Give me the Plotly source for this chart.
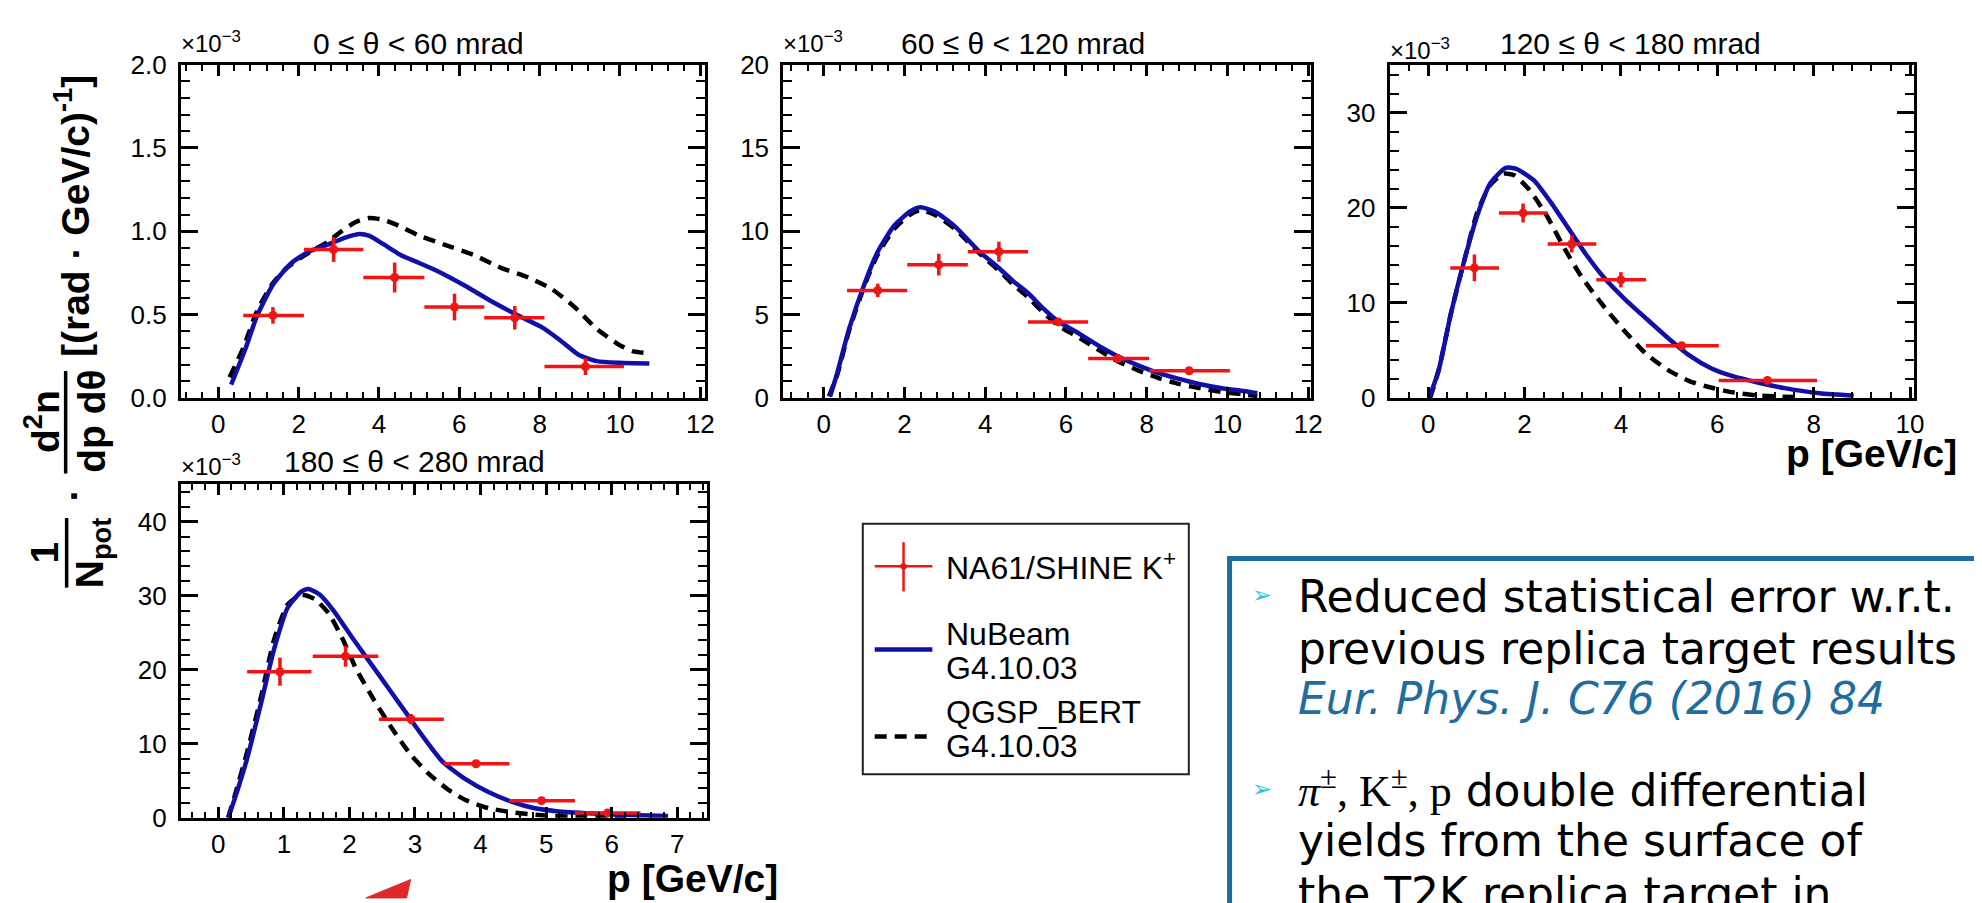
import plotly.graph_objects as go

W, H = 1982, 903

# ---------------- data (y in units of 1e-3) ----------------
# Panel 1 : 0 <= theta < 60 mrad
p1_data_x   = [1.36, 2.87, 4.39, 5.88, 7.38, 9.14]
p1_data_xlo = [0.62, 2.13, 3.61, 5.13, 6.62, 8.12]
p1_data_xhi = [2.13, 3.61, 5.13, 6.62, 8.12, 10.10]
p1_data_y   = [0.496, 0.891, 0.723, 0.546, 0.482, 0.189]
p1_data_err = [0.05, 0.075, 0.09, 0.08, 0.07, 0.05]
p1_nb_x = [0.32, 0.68, 0.96, 1.36, 1.82, 2.27, 2.72, 3.18, 3.52, 3.75, 4.09, 4.54, 5.0, 5.45,
           6.13, 6.81, 7.49, 8.06, 8.51, 8.97, 9.42, 9.99, 10.73]
p1_nb_y = [0.081, 0.299, 0.49, 0.68, 0.81, 0.88, 0.92, 0.964, 0.984, 0.974, 0.926, 0.858, 0.81,
           0.762, 0.675, 0.579, 0.492, 0.424, 0.347, 0.26, 0.222, 0.212, 0.208]
p1_qg_x = [0.28, 0.62, 0.96, 1.36, 1.7, 2.04, 2.38, 2.72, 3.06, 3.41, 3.75, 4.09, 4.43, 5.0,
           5.68, 6.36, 7.04, 7.72, 8.29, 8.85, 9.42, 9.99, 10.33, 10.67]
p1_qg_y = [0.125, 0.3, 0.52, 0.69, 0.78, 0.84, 0.89, 0.935, 1.0, 1.055, 1.08, 1.07, 1.04, 0.974,
           0.916, 0.858, 0.781, 0.723, 0.656, 0.55, 0.415, 0.318, 0.28, 0.27]

# Panel 2 : 60 <= theta < 120 mrad
p2_data_x   = [1.34, 2.85, 4.34, 5.81, 7.29, 9.05]
p2_data_xlo = [0.58, 2.07, 3.57, 5.06, 6.55, 8.06]
p2_data_xhi = [2.07, 3.57, 5.06, 6.55, 8.06, 10.06]
p2_data_y   = [6.46, 8.0, 8.78, 4.57, 2.37, 1.64]
p2_data_err = [0.4, 0.65, 0.6, 0.2, 0.15, 0.1]
p2_nb_x = [0.16, 0.33, 0.63, 1.04, 1.34, 1.74, 2.14, 2.39, 2.75, 3.25, 3.85, 4.34, 4.7, 5.06,
           5.45, 5.81, 6.27, 6.87, 7.29, 7.8, 8.3, 8.8, 9.3, 9.9, 10.4, 10.74]
p2_nb_y = [0.1, 1.45, 4.15, 7.04, 8.78, 10.32, 11.19, 11.44, 11.19, 10.3, 8.8, 7.8, 7.0, 6.3,
           5.35, 4.6, 3.95, 3.05, 2.5, 1.95, 1.5, 1.15, 0.85, 0.58, 0.42, 0.29]
p2_qg_x = [0.13, 0.33, 0.63, 1.04, 1.34, 1.74, 2.14, 2.39, 2.75, 3.25, 3.85, 4.34, 4.7, 5.06,
           5.45, 5.81, 6.27, 6.87, 7.29, 7.8, 8.3, 8.8, 9.3, 9.9, 10.4, 10.74]
p2_qg_y = [0.1, 1.35, 4.05, 6.94, 8.62, 10.13, 11.0, 11.28, 10.99, 10.15, 8.7, 7.65, 6.8, 6.05,
           5.1, 4.35, 3.7, 2.8, 2.2, 1.65, 1.2, 0.85, 0.6, 0.35, 0.22, 0.13]

# Panel 3 : 120 <= theta < 180 mrad
p3_data_x   = [0.96, 1.97, 2.98, 4.0, 5.26, 7.04]
p3_data_xlo = [0.46, 1.47, 2.48, 3.49, 4.52, 6.03]
p3_data_xhi = [1.47, 2.48, 3.49, 4.52, 6.03, 8.07]
p3_data_y   = [13.68, 19.46, 16.2, 12.43, 5.5, 1.86]
p3_data_err = [1.4, 1.0, 0.9, 0.8, 0.3, 0.2]
p3_nb_x = [0.02, 0.22, 0.48, 0.75, 1.02, 1.29, 1.61, 1.83, 2.19, 2.55, 2.91, 3.27, 3.63, 4.08,
           4.52, 4.97, 5.42, 5.87, 6.32, 6.86, 7.4, 8.12, 8.83]
p3_nb_y = [0.0, 2.97, 9.05, 14.46, 19.19, 22.57, 24.19, 24.09, 22.9, 20.54, 17.84, 15.14, 12.77,
           10.41, 8.38, 6.35, 4.49, 3.14, 2.3, 1.62, 1.05, 0.51, 0.27]
p3_qg_x = [0.04, 0.22, 0.48, 0.75, 1.02, 1.29, 1.56, 1.79, 2.1, 2.46, 2.82, 3.18, 3.63, 4.08,
           4.52, 4.97, 5.42, 5.87, 6.32, 6.86, 7.67]
p3_qg_y = [0.0, 2.97, 9.05, 14.46, 19.53, 22.4, 23.58, 23.41, 21.89, 19.19, 15.81, 12.77, 9.73,
           7.03, 4.66, 2.97, 1.79, 1.11, 0.61, 0.27, 0.1]

# Panel 4 : 180 <= theta < 280 mrad
p4_data_x   = [0.94, 1.94, 2.94, 3.93, 4.93, 5.94]
p4_data_xlo = [0.44, 1.44, 2.45, 3.44, 4.44, 5.44]
p4_data_xhi = [1.42, 2.44, 3.44, 4.44, 5.44, 6.44]
p4_data_y   = [19.74, 21.82, 13.32, 7.29, 2.3, 0.65]
p4_data_err = [1.9, 1.4, 0.7, 0.4, 0.2, 0.1]
p4_nb_x = [0.15, 0.26, 0.44, 0.65, 0.85, 1.06, 1.27, 1.375, 1.55, 1.76, 2.03, 2.31, 2.59, 2.87,
           3.15, 3.42, 3.77, 4.12, 4.47, 4.81, 5.16, 5.72, 6.27, 6.86]
p4_nb_y = [0.0, 2.82, 8.03, 15.4, 22.78, 28.42, 30.59, 30.93, 30.15, 27.98, 24.51, 21.04, 17.57,
           14.1, 10.63, 7.59, 5.21, 3.47, 2.17, 1.3, 0.87, 0.56, 0.35, 0.22]
p4_qg_x = [0.15, 0.26, 0.44, 0.65, 0.85, 1.06, 1.27, 1.48, 1.69, 1.9, 2.1, 2.38, 2.66, 2.94,
           3.22, 3.49, 3.77, 4.12, 4.47, 4.88, 5.51, 6.2]
p4_qg_y = [0.0, 3.25, 8.89, 16.27, 24.08, 28.85, 30.15, 29.5, 27.55, 24.08, 20.17, 15.84, 11.93,
           8.46, 5.86, 3.9, 2.39, 1.3, 0.74, 0.35, 0.09, 0.0]

panel_titles = ["0 \u2264 \u03b8 < 60 mrad", "60 \u2264 \u03b8 < 120 mrad",
                "120 \u2264 \u03b8 < 180 mrad", "180 \u2264 \u03b8 < 280 mrad"]
legend_labels = ["NA61/SHINE K<sup>+</sup>", "NuBeam", "G4.10.03", "QGSP_BERT", "G4.10.03"]

# ---------------- styling ----------------
RED = "#f01414"
BLUE = "#1010a8"
FONT = "Liberation Sans, Arial, Helvetica, sans-serif"
TXT = "DejaVu Sans, Verdana, sans-serif"
BOXBLUE = "#1f6d9e"


def px(x):
    return x / W


def py(y):
    return 1 - y / H


panels = [
    dict(frame=(174, 701, 43, 388), xr=[-0.93, 12.11], yr=[0, 2.0], xd=2, xm=0.4, yd=0.5, ym=0.1,
         yfmt=".1f", data=(p1_data_x, p1_data_xlo, p1_data_xhi, p1_data_y, p1_data_err),
         nb=(p1_nb_x, p1_nb_y), qg=(p1_qg_x, p1_qg_y), title_x=413, title_y=21, exp=(174, 20)),
    dict(frame=(780, 1311, 43, 388), xr=[-1.0, 12.07], yr=[0, 20], xd=2, xm=0.4, yd=5, ym=1,
         yfmt="d", data=(p2_data_x, p2_data_xlo, p2_data_xhi, p2_data_y, p2_data_err),
         nb=(p2_nb_x, p2_nb_y), qg=(p2_qg_x, p2_qg_y), title_x=1021, title_y=21, exp=(780, 20)),
    dict(frame=(1390, 1918, 43, 388), xr=[-0.80, 10.09], yr=[0, 35.05], xd=2, xm=0.4, yd=10, ym=2,
         yfmt="d", data=(p3_data_x, p3_data_xlo, p3_data_xhi, p3_data_y, p3_data_err),
         nb=(p3_nb_x, p3_nb_y), qg=(p3_qg_x, p3_qg_y), title_x=1632, title_y=21, exp=(1390, 27)),
    dict(frame=(174, 703, 477, 822), xr=[-0.57, 7.45], yr=[0, 45.1], xd=1, xm=0.2, yd=10, ym=2,
         yfmt="d", data=(p4_data_x, p4_data_xlo, p4_data_xhi, p4_data_y, p4_data_err),
         nb=(p4_nb_x, p4_nb_y), qg=(p4_qg_x, p4_qg_y), title_x=409, title_y=454, exp=(174, 457)),
]

fig = go.Figure()
layout = dict(
    width=W, height=H, margin=dict(l=0, r=0, t=0, b=0),
    paper_bgcolor="white", plot_bgcolor="white", showlegend=False,
    font=dict(family=FONT, color="black"),
)
annotations = []
shapes = []

for i, p in enumerate(panels):
    n = "" if i == 0 else str(i + 1)
    x0, x1, y0, y1 = p["frame"]
    common = dict(showline=True, linewidth=3, linecolor="black", mirror="allticks",
                  ticks="inside", tickwidth=2.5, tickcolor="black", showgrid=False,
                  zeroline=False, tickfont=dict(family=FONT, size=26, color="black"))
    layout["xaxis" + n] = dict(
        domain=[px(x0), px(x1)], anchor="y" + n, range=p["xr"], tick0=0, dtick=p["xd"],
        ticklen=11, minor=dict(ticks="inside", ticklen=6, tickwidth=2, dtick=p["xm"], tick0=0,
                               tickcolor="black"),
        ticklabelstandoff=1, **common)
    layout["yaxis" + n] = dict(
        domain=[py(y1), py(y0)], anchor="x" + n, range=p["yr"], tick0=0, dtick=p["yd"],
        tickformat=p["yfmt"], ticklen=17,
        minor=dict(ticks="inside", ticklen=9, tickwidth=2, dtick=p["ym"], tick0=0,
                   tickcolor="black"),
        ticklabelstandoff=6, **common)

    xa, ya = "x" + n, "y" + n
    qx, qy = p["qg"]
    fig.add_trace(go.Scatter(x=qx, y=qy, mode="lines", xaxis=xa, yaxis=ya,
                             line=dict(color="black", width=4.5, dash="12px,8px",
                                       shape="spline", smoothing=0.6)))
    bx, by = p["nb"]
    fig.add_trace(go.Scatter(x=bx, y=by, mode="lines", xaxis=xa, yaxis=ya,
                             line=dict(color=BLUE, width=4.5, shape="spline", smoothing=0.6)))
    dx, dlo, dhi, dy, de = p["data"]
    fig.add_trace(go.Scatter(
        x=dx, y=dy, mode="markers", xaxis=xa, yaxis=ya,
        marker=dict(color=RED, size=9, symbol="circle"),
        error_x=dict(type="data", symmetric=False,
                     array=[h - c for h, c in zip(dhi, dx)],
                     arrayminus=[c - l for c, l in zip(dx, dlo)],
                     color=RED, thickness=3.5, width=0),
        error_y=dict(type="data", array=de, color=RED, thickness=3.5, width=0)))

    annotations.append(dict(x=px(p["title_x"]), y=py(p["title_y"]), xref="paper", yref="paper",
                            text=panel_titles[i], showarrow=False, xanchor="center",
                            yanchor="middle", font=dict(family=FONT, size=30, color="black")))
    ex, ey = p["exp"]
    annotations.append(dict(x=px(ex - 2), y=py(ey), xref="paper", yref="paper",
                            text="\u00d710<sup>\u22123</sup>", showarrow=False, xanchor="left",
                            yanchor="middle", font=dict(family=FONT, size=24, color="black")))

# axis titles "p [GeV/c]"
annotations.append(dict(x=px(1963), y=py(445), xref="paper", yref="paper",
                        text="<b>p [GeV/c]</b>", showarrow=False, xanchor="right",
                        yanchor="middle", font=dict(family=FONT, size=39, color="black")))
annotations.append(dict(x=px(777), y=py(885), xref="paper", yref="paper",
                        text="<b>p [GeV/c]</b>", showarrow=False, xanchor="right",
                        yanchor="middle", font=dict(family=FONT, size=39, color="black")))

# y-axis title (rotated pieces)
yl_font = dict(family=FONT, size=39, color="black")
annotations += [
    dict(x=px(64), y=py(200), text="<b>[(rad \u00b7 GeV/c)<sup>-1</sup>]</b>"),
    dict(x=px(34), y=py(412), text="<b>d<sup>2</sup>n</b>"),
    dict(x=px(84), y=py(412), text="<b>dp d\u03b8</b>"),
    dict(x=px(66), y=py(488), text="<b>\u00b7</b>"),
    dict(x=px(37), y=py(548), text="<b>1</b>"),
    dict(x=px(85), y=py(548), text="<b>N<sub>pot</sub></b>"),
]
for a in annotations[-6:]:
    a.update(xref="paper", yref="paper", showarrow=False, textangle=-90,
             xanchor="center", yanchor="middle", font=yl_font)
shapes += [
    dict(type="line", xref="paper", yref="paper", x0=px(58), x1=px(58), y0=py(360), y1=py(466),
         line=dict(color="black", width=3.5)),
    dict(type="line", xref="paper", yref="paper", x0=px(59), x1=px(59), y0=py(512), y1=py(584),
         line=dict(color="black", width=3.5)),
]

# legend box (drawn by hand)
shapes += [
    dict(type="rect", xref="paper", yref="paper", x0=px(860), x1=px(1188), y0=py(777), y1=py(518),
         line=dict(color="#222222", width=2), fillcolor="white", layer="below"),
    dict(type="line", xref="paper", yref="paper", x0=px(872), x1=px(930), y0=py(562), y1=py(562),
         line=dict(color=RED, width=2.5)),
    dict(type="line", xref="paper", yref="paper", x0=px(901), x1=px(901), y0=py(537), y1=py(588),
         line=dict(color=RED, width=2.5)),
    dict(type="circle", xref="paper", yref="paper", x0=px(898), x1=px(904), y0=py(565), y1=py(559),
         line=dict(color=RED, width=1), fillcolor=RED),
    dict(type="line", xref="paper", yref="paper", x0=px(872), x1=px(930), y0=py(648), y1=py(648),
         line=dict(color=BLUE, width=4.5)),
    dict(type="line", xref="paper", yref="paper", x0=px(872), x1=px(930), y0=py(738), y1=py(738),
         line=dict(color="black", width=4.5, dash="12px,8px")),
]
leg_y = [562, 632, 667, 713, 748]
for lbl, ly in zip(legend_labels, leg_y):
    annotations.append(dict(x=px(942), y=py(ly), xref="paper", yref="paper", text=lbl,
                            showarrow=False, xanchor="left", yanchor="middle",
                            font=dict(family=FONT, size=32, color="black")))

# text box on the right
shapes.append(dict(type="rect", xref="paper", yref="paper", x0=px(1229), x1=px(2010),
                   y0=py(960), y1=py(554), line=dict(color=BOXBLUE, width=5),
                   fillcolor="rgba(0,0,0,0)"))
for by_ in [592, 792]:
    annotations.append(dict(x=px(1250), y=py(by_), xref="paper", yref="paper", text="\u27a2",
                            showarrow=False, xanchor="left", yanchor="middle",
                            font=dict(family=TXT, size=24, color="#2ec8d0")))
serif = "font-family:'Liberation Serif','Times New Roman',serif"
lines = [
    (593, "Reduced statistical error w.r.t.", "black"),
    (647, "previous replica target results", "black"),
    (699, "<i>Eur. Phys. J. C76 (2016) 84</i>", BOXBLUE),
    (792, "<span style=\"" + serif + "\"><i>\u03c0</i><sup>\u00b1</sup>, K<sup>\u00b1</sup>, p</span>"
          " double differential", "black"),
    (846, "yields from the surface of", "black"),
    (900, "the T2K replica target in", "black"),
]
for ly, txt, col in lines:
    annotations.append(dict(x=px(1296), y=py(ly), xref="paper", yref="paper", text=txt,
                            showarrow=False, xanchor="left", yanchor="middle",
                            font=dict(family=TXT, size=44, color=col)))

# red arrow tip at the bottom
shapes.append(dict(type="path", xref="paper", yref="paper",
                   path="M {} {} L {} {} L {} {} Z".format(px(360), py(905), px(405), py(886),
                                                          px(401), py(905)),
                   fillcolor="#e02828", line=dict(color="#e02828", width=1)))

layout["annotations"] = annotations
layout["shapes"] = shapes
fig.update_layout(**layout)
fig.write_html("out.html")
